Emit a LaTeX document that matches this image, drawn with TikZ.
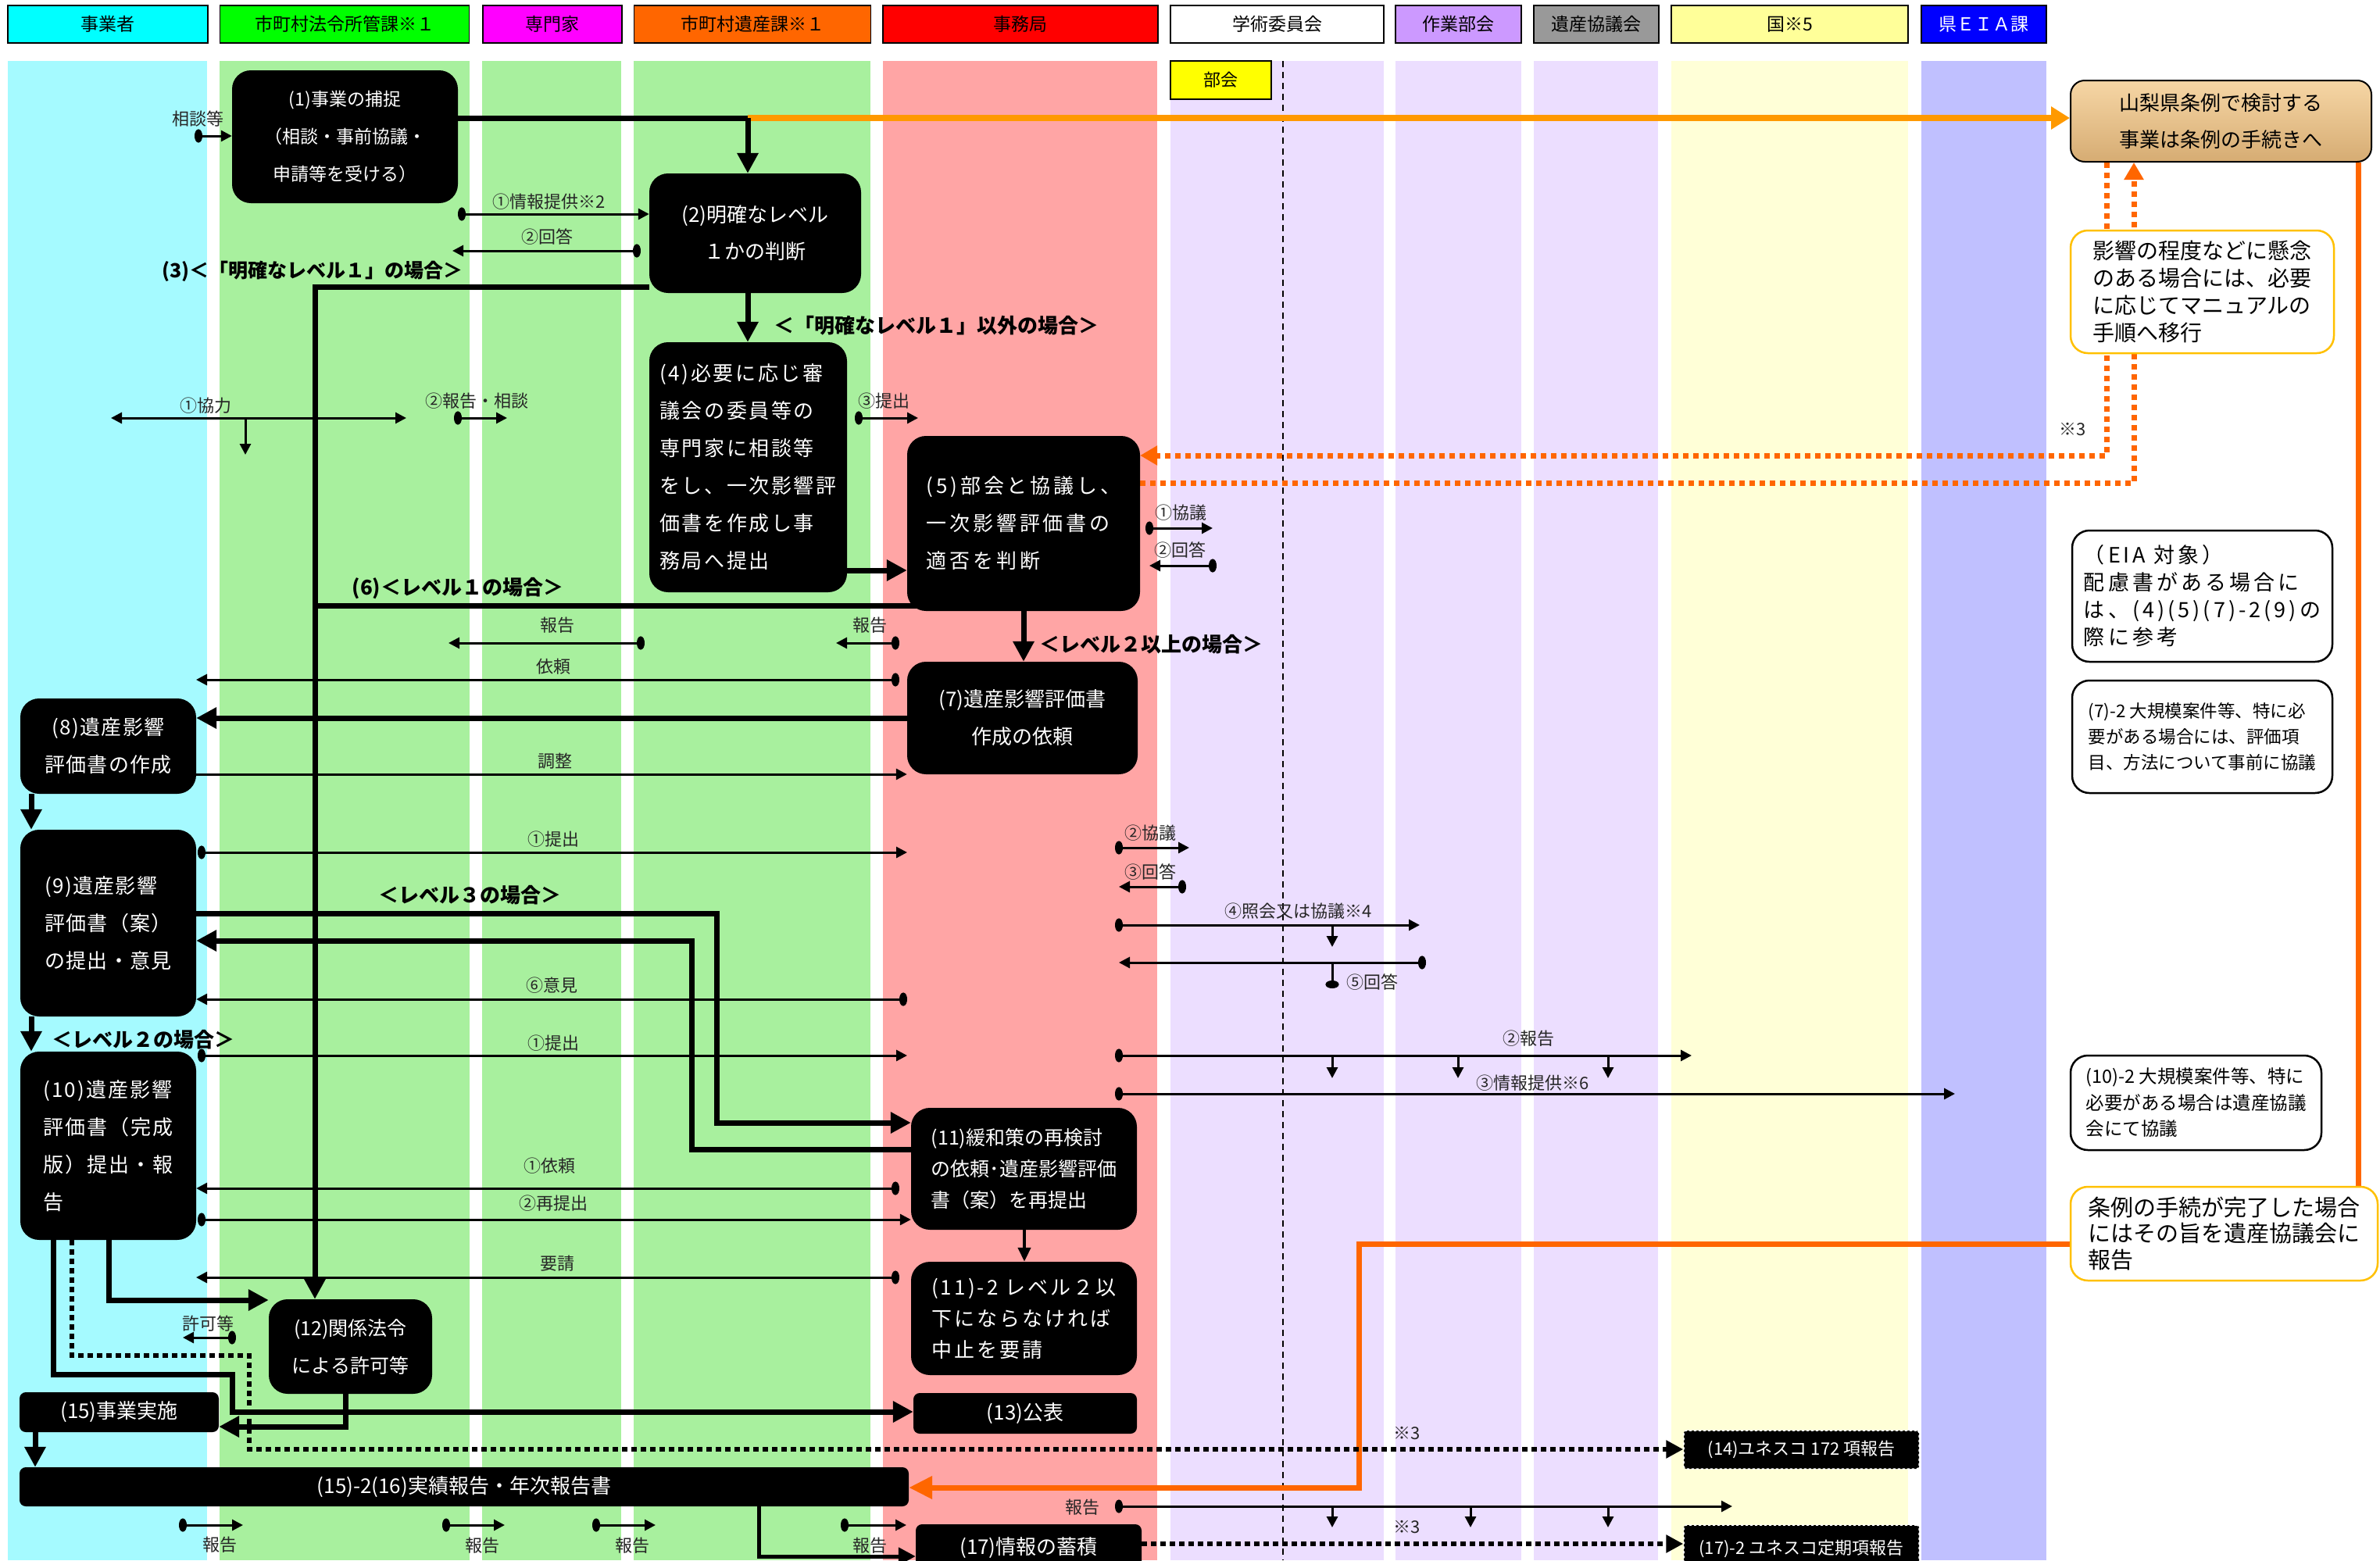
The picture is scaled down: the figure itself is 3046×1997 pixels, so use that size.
\documentclass[tikz,border=0pt]{standalone}
\usepackage{fontspec}
\setmainfont{Noto Sans CJK JP}
\usetikzlibrary{arrows.meta}
\pgfdeclarelayer{bg}
\pgfsetlayers{bg,main}
\definecolor{hcyan}{RGB}{0,255,255}
\definecolor{hgreen}{RGB}{0,255,0}
\definecolor{hmag}{RGB}{255,0,255}
\definecolor{horange}{RGB}{255,102,0}
\definecolor{hred}{RGB}{255,0,0}
\definecolor{hlav}{RGB}{204,153,255}
\definecolor{hgray}{RGB}{153,153,153}
\definecolor{hyel}{RGB}{255,255,153}
\definecolor{hblue}{RGB}{0,0,255}
\definecolor{lcyan}{RGB}{165,250,255}
\definecolor{lgreen}{RGB}{168,240,158}
\definecolor{lred}{RGB}{255,165,165}
\definecolor{llav}{RGB}{236,222,255}
\definecolor{lyel}{RGB}{255,255,215}
\definecolor{lblue}{RGB}{192,192,255}
\definecolor{orA}{RGB}{255,153,0}
\definecolor{orB}{RGB}{255,102,0}
\definecolor{gold}{RGB}{255,192,0}
\definecolor{tanT}{RGB}{246,214,165}
\definecolor{tanB}{RGB}{214,172,115}
\definecolor{bukai}{RGB}{255,255,0}
\newcommand\fs[2]{\fontsize{#1}{#2}\selectfont}
\newcommand\ls[1]{\addfontfeature{LetterSpace=#1}}
\tikzset{
 shdr/.style={draw=black, line width=1.5pt, minimum height=48pt, inner sep=0pt, font=\fs{23}{23}},
 sblk/.style={fill=black, text=white, rounded corners=24pt, inner sep=0pt},
 sblq/.style={fill=black, text=white, rounded corners=8pt, inner sep=0pt, font=\fs{26}{26}},
 stk/.style={line width=7pt},
 stka/.style={line width=7pt, -{Triangle[length=26pt,width=26pt]}},
 sdot/.style={line width=6pt, dash pattern=on 7pt off 5pt, -{Triangle[length=22pt,width=22pt]}},
 odot/.style={orB, line width=7pt, dash pattern=on 7pt off 6pt, -{Triangle[length=22pt,width=24pt]}},
 sta/.style={line width=3pt, {Circle[length=10pt,width=17pt]}-{Triangle[length=14pt,width=14pt]}},
 stb/.style={line width=3pt, -{Triangle[length=14pt,width=14pt]}},
 stc/.style={line width=3pt, {Triangle[length=14pt,width=14pt]}-{Triangle[length=14pt,width=14pt]}},
 std/.style={line width=3pt, {Circle[length=10pt,width=17pt]}-},
 slb/.style={inner sep=0pt, text=black!85, font=\fs{22}{22}},
 sbl/.style={inner sep=0pt, font=\bfseries\fs{26}{26}},
 snote/.style={draw=black, line width=2.5pt, fill=white, rounded corners=22pt, inner sep=0pt, align=left},
 snoteo/.style={draw=gold, line width=2.5pt, fill=white, rounded corners=22pt, inner sep=0pt, align=left},
}
\begin{document}
\begin{tikzpicture}[x=1pt,y=-1pt]
\useasboundingbox (0,0) rectangle (3046,1997);

% ---------- headers ----------
\node[shdr, fill=hcyan, minimum width=256pt] (h1) at (138,31) {事業者};
\node[shdr, fill=hgreen, minimum width=319pt] (h2) at (441,31) {市町村法令所管課※１};
\node[shdr, fill=hmag, minimum width=178pt] (h3) at (707,31) {専門家};
\node[shdr, fill=horange, minimum width=303pt] (h4) at (963,31) {市町村遺産課※１};
\node[shdr, fill=hred, minimum width=352pt] (h5) at (1306,31) {事務局};
\node[shdr, fill=white, minimum width=273pt] (h6) at (1634.5,31) {学術委員会};
\node[shdr, fill=hlav, minimum width=161pt] (h7) at (1866.5,31) {作業部会};
\node[shdr, fill=hgray, minimum width=160pt] (h8) at (2043,31) {遺産協議会};
\node[shdr, fill=hyel, minimum width=303pt] (h9) at (2290.5,31) {国※5};
\node[shdr, fill=hblue, text=white, minimum width=160pt] (h10) at (2539,31) {県ＥＩＡ課};
\node[shdr, fill=bukai, minimum width=129pt, minimum height=49pt, font=\fs{22}{22}] (bk) at (1562.5,102.5) {部会};

% ---------- black process nodes ----------
\node[sblk, minimum width=289pt, minimum height=170pt, align=center, font=\fs{23}{48}] (b1) at (441.5,175) {(1)事業の捕捉\\（相談・事前協議・\\申請等を受ける）};
\node[sblk, minimum width=271pt, minimum height=153pt, align=center, font=\fs{26}{47}] (b2) at (966.5,298.5) {(2)明確なレベル\\１かの判断};
\node[sblk, minimum width=253pt, minimum height=320pt, align=left, font=\fs{26}{48}\ls{10}] (b4) at (957.5,598) {(4)必要に応じ審\\議会の委員等の\\専門家に相談等\\をし、一次影響評\\価書を作成し事\\務局へ提出};
\node[sblk, minimum width=298pt, minimum height=224pt, align=left, font=\fs{26}{48}\ls{15}] (b5) at (1310,670) {(5)部会と協議し、\\一次影響評価書の\\適否を判断};
\node[sblk, minimum width=295pt, minimum height=144pt, align=center, font=\fs{26}{48}] (b7) at (1308.5,919) {(7)遺産影響評価書\\作成の依頼};
\node[sblk, minimum width=225pt, minimum height=122pt, align=center, font=\fs{26}{48}\ls{5}] (b8) at (138.5,955) {(8)遺産影響\\評価書の作成};
\node[sblk, minimum width=225pt, minimum height=239pt, align=left, font=\fs{26}{48}\ls{5}] (b9) at (138.5,1181.5) {(9)遺産影響\\評価書（案）\\の提出・意見};
\node[sblk, minimum width=225pt, minimum height=241pt, align=left, font=\fs{26}{48}\ls{8}] (b10) at (138.5,1466.5) {(10)遺産影響\\評価書（完成\\版）提出・報\\告};
\node[sblk, minimum width=289pt, minimum height=156pt, align=left, font=\fs{25}{40}] (b11) at (1310.5,1496) {(11)緩和策の再検討\\の依頼･遺産影響評価\\書（案）を再提出};
\node[sblk, minimum width=289pt, minimum height=145pt, align=left, font=\fs{26}{40}\ls{12}] (b112) at (1310.5,1687.5) {(11)-2 レベル２以\\下にならなければ\\中止を要請};
\node[sblk, minimum width=209pt, minimum height=121pt, align=center, font=\fs{25}{48}] (b12) at (448.5,1723.5) {(12)関係法令\\による許可等};
\node[sblq, minimum width=286pt, minimum height=52pt] (b13) at (1312,1809) {(13)公表};
\node[sblq, minimum width=255pt, minimum height=51pt] (b15) at (152.5,1807.5) {(15)事業実施};
\node[sblq, minimum width=1138pt, minimum height=50pt] (b152) at (594,1903) {(15)-2(16)実績報告・年次報告書};
\node[sblq, minimum width=289pt, minimum height=60pt] (b17) at (1316.5,1981) {(17)情報の蓄積};
\node[sblq, rounded corners=3pt, minimum width=301pt, minimum height=49pt, font=\fs{22}{22}, draw=white, line width=1.5pt, dash pattern=on 3pt off 3pt] (b14) at (2305.5,1855.5) {(14)ユネスコ 172 項報告};
\node[sblq, rounded corners=3pt, minimum width=301pt, minimum height=60pt, font=\fs{22}{22}, draw=white, line width=1.5pt, dash pattern=on 3pt off 3pt] (b172) at (2305.5,1982) {(17)-2 ユネスコ定期項報告};

% ---------- right side notes ----------
\node[draw=black, line width=2pt, rounded corners=18pt, top color=tanT, bottom color=tanB, minimum width=385pt, minimum height=104pt, inner sep=0pt, align=center, font=\fs{26}{47}] (jA) at (2842.5,155) {山梨県条例で検討する\\事業は条例の手続きへ};
\node[snoteo, minimum width=337pt, minimum height=157pt, font=\fs{28}{35}] (jC) at (2818.5,373.5) {影響の程度などに懸念\\のある場合には、必要\\に応じてマニュアルの\\手順へ移行};
\node[snote, minimum width=333pt, minimum height=168pt, font=\fs{27}{35}\ls{15}] (jD) at (2818.5,763) {（EIA 対象）\\配慮書がある場合に\\は、(4)(5)(7)-2(9)の\\際に参考};
\node[snote, minimum width=333pt, minimum height=144pt, font=\fs{22.5}{33}] (jE) at (2818.5,943) {(7)-2 大規模案件等、特に必\\要がある場合には、評価項\\目、方法について事前に協議};
\node[snote, minimum width=321pt, minimum height=121pt, font=\fs{23.5}{33.5}] (jF) at (2810.5,1411.5) {(10)-2 大規模案件等、特に\\必要がある場合は遺産協議\\会にて協議};
\node[snoteo, minimum width=393pt, minimum height=120pt, font=\fs{29}{33.5}] (jB) at (2846.5,1579) {条例の手続が完了した場合\\にはその旨を遺産協議会に\\報告};

% ---------- labels ----------
\node[slb] (l1) at (253,152) {相談等};
\node[slb] (l2) at (703,258) {①情報提供※2};
\node[slb] (l3) at (700,303) {②回答};
\node[slb] (l4) at (263,519) {①協力};
\node[slb] (l5) at (610,513) {②報告・相談};
\node[slb] (l6) at (1131,513) {③提出};
\node[slb] (l7) at (1511,656) {①協議};
\node[slb] (l8) at (1510,704) {②回答};
\node[slb] (l9) at (713,800) {報告};
\node[slb] (l10) at (1113,800) {報告};
\node[slb] (l11) at (708,853) {依頼};
\node[slb] (l12) at (710,974) {調整};
\node[slb] (l13) at (708,1074) {①提出};
\node[slb] (l14) at (1472,1066) {②協議};
\node[slb] (l15) at (1472,1116) {③回答};
\node[slb] (l16) at (1662,1166) {④照会又は協議※4};
\node[slb] (l17) at (1756,1257) {⑤回答};
\node[slb] (l18) at (706,1261) {⑥意見};
\node[slb] (l19) at (708,1335) {①提出};
\node[slb] (l20) at (1956,1329) {②報告};
\node[slb] (l21) at (1962,1386) {③情報提供※6};
\node[slb] (l22) at (703,1492) {①依頼};
\node[slb] (l23) at (708,1540) {②再提出};
\node[slb] (l24) at (713,1617) {要請};
\node[slb] (l25) at (266,1694) {許可等};
\node[slb] (l26) at (281,1977) {報告};
\node[slb] (l27) at (617,1978) {報告};
\node[slb] (l28) at (809,1978) {報告};
\node[slb] (l29) at (1113,1978) {報告};
\node[slb] (l30) at (1385,1929) {報告};
\node[slb] (l31) at (2653,549) {※3};
\node[slb] (l32) at (1801,1834) {※3};
\node[slb] (l33) at (1801,1954) {※3};

\node[sbl, font=\bfseries\fs{25}{25}] (k1) at (400,347) {(3)＜「明確なレベル１」の場合＞};
\node[sbl, anchor=west] (k2) at (990,417) {＜「明確なレベル１」以外の場合＞};
\node[sbl] (k3) at (586,753) {(6)＜レベル１の場合＞};
\node[sbl, anchor=west] (k4) at (1330,825) {＜レベル２以上の場合＞};
\node[sbl] (k5) at (601,1146) {＜レベル３の場合＞};
\node[sbl] (k6) at (183,1331) {＜レベル２の場合＞};

% ---------- background layer: lanes and connectors ----------
\begin{pgfonlayer}{bg}
\fill[white] (0,0) rectangle (3046,1997);
\fill[lcyan] (10,78) rectangle (265,1997);
\fill[lgreen] (281,78) rectangle (601,1997);
\fill[lgreen] (617,78) rectangle (795,1997);
\fill[lgreen] (811,78) rectangle (1114,1997);
\fill[lred] (1130,78) rectangle (1481,1997);
\fill[llav] (1498,78) rectangle (1771,1997);
\fill[llav] (1786,78) rectangle (1947,1997);
\fill[llav] (1963,78) rectangle (2122,1997);
\fill[lyel] (2139,78) rectangle (2442,1997);
\fill[lblue] (2459,78) rectangle (2619,1997);
\draw[line width=2pt, dash pattern=on 8pt off 6pt] (1642,78) -- (1642,1997);

% orange connectors
\coordinate (j1) at (957,151);
\draw[orA, line width=8pt, -{Triangle[length=24pt,width=28pt]}] (j1) -- (jA.west |- j1);
\draw[odot] (2696,0 |- jA.south) -- (2696,583) -- (b5.east |- 0,583);
\draw[odot] (b5.east |- 0,618) -- (2731,618) -- (2731,0 |- jA.south);
\draw[orB, line width=7pt] (3018,0 |- jA.south) -- (3018,0 |- jB.north);
\draw[orB, line width=7pt, -{Triangle[length=30pt,width=28pt]}] (jB.west |- 0,1592) -- (1739,1592) -- (1739,1904) -- (b152.east |- 0,1904);

% thick black connectors
\draw[stk] (b1.east |- j1) -- (j1);
\draw[stka] (j1) -- (j1 |- b2.north);
\draw[stka] (957,0 |- b2.south) -- (957,0 |- b4.north);
\draw[stka] (b2.west |- 0,367) -- (403,367) -- (403,0 |- b12.north);
\draw[stka] (b4.east |- 0,730) -- (b5.west |- 0,730);
\draw[stk] (1180,775) -- (403,775);
\draw[stka] (b5.south) -- (b5.south |- b7.north);
\draw[stka] (b7.west |- 0,919) -- (b8.east |- 0,919);
\draw[stka] (40,0 |- b8.south) -- (40,0 |- b9.north);
\draw[stka] (b9.east |- 0,1169) -- (917,1169) -- (917,1437) -- (b11.west |- 0,1437);
\draw[stka] (b11.west |- 0,1471) -- (885,1471) -- (885,1204) -- (b9.east |- 0,1204);
\draw[stka] (40,0 |- b9.south) -- (40,0 |- b10.north);
\draw[line width=4pt, -{Triangle[length=18pt,width=16pt]}] (1311,0 |- b11.south) -- (1311,0 |- b112.north);
\draw[stka] (139,0 |- b10.south) -- (139,1664) -- (b12.west |- 0,1664);
\draw[stka] (68,0 |- b10.south) -- (68,1759) -- (297,1759) -- (297,1807) -- (b13.west |- 0,1807);
\draw[sdot] (92,0 |- b10.south) -- (92,1735) -- (319,1735) -- (319,1855) -- (b14.west |- 0,1855);
\draw[stka] (442,0 |- b12.south) -- (442,1826) -- (b15.east |- 0,1826);
\draw[stka] (45,0 |- b15.south) -- (45,0 |- b152.north);
\draw[line width=5pt, -{Triangle[length=22pt,width=22pt]}] (971,0 |- b152.south) -- (971,1992) -- (b17.west |- 0,1992);
\draw[sdot] (b17.east |- 0,1976) -- (b172.west |- 0,1976);

% thin connectors
\draw[sta] (249,174) coordinate (c1) -- (b1.west |- c1);
\draw[sta] (586,274) coordinate (c2) -- (b2.west |- c2);
\draw[sta] (820,321) coordinate (c3a) -- (579,321) coordinate (c3b);
\draw[stc] (142,535) coordinate (c4a) -- (520,535) coordinate (c4b);
\draw[stb] (314,535) coordinate (c4c) -- (314,582) coordinate (c4d);
\draw[sta] (581,535) coordinate (c5a) -- (649,535) coordinate (c5b);
\draw[sta] (1094,535) coordinate (c6a) -- (1175,535) coordinate (c6b);
\draw[sta] (1466,676) coordinate (c7a) -- (1552,676) coordinate (c7b);
\draw[sta] (1557,724) coordinate (c8a) -- (1471,724) coordinate (c8b);
\draw[sta] (825,823) coordinate (c9a) -- (574,823) coordinate (c9b);
\draw[sta] (1151,823) coordinate (c10a) -- (1070,823) coordinate (c10b);
\draw[sta] (1151,870) coordinate (c11a) -- (251,870) coordinate (c11b);
\draw[stb] (b8.east |- 0,991) -- (b7.west |- 0,991);
\draw[sta] (253,1091) coordinate (c13a) -- (1161,1091) coordinate (c13b);
\draw[sta] (1427,1085) coordinate (c14a) -- (1522,1085) coordinate (c14b);
\draw[sta] (1518,1135) coordinate (c15a) -- (1432,1135) coordinate (c15b);
\draw[sta] (1427,1184) coordinate (c16a) -- (1817,1184) coordinate (c16b);
\draw[stb] (1705,1184) coordinate (c16c) -- (1705,1212) coordinate (c16d);
\draw[sta] (1825,1232) coordinate (c17a) -- (1432,1232) coordinate (c17b);
\draw[std] (1705,1265) coordinate (c17c) -- (1705,1232) coordinate (c17d);
\draw[sta] (1161,1279) coordinate (c18a) -- (b9.east |- c18a);
\draw[sta] (253,1351) coordinate (c19a) -- (1161,1351) coordinate (c19b);
\draw[sta] (1427,1351) coordinate (c20a) -- (2165,1351) coordinate (c20b);
\draw[stb] (1705,1351) coordinate (c20c) -- (1705,1380) coordinate (c20d);
\draw[stb] (1866,1351) coordinate (c20e) -- (1866,1380) coordinate (c20f);
\draw[stb] (2058,1351) coordinate (c20g) -- (2058,1380) coordinate (c20h);
\draw[sta] (1427,1400) coordinate (c21a) -- (2502,1400) coordinate (c21b);
\draw[sta] (1151,1521) coordinate (c22a) -- (b10.east |- c22a);
\draw[sta] (253,1561) coordinate (c23a) -- (b11.west |- c23a);
\draw[sta] (1151,1635) coordinate (c24a) -- (251,1635) coordinate (c24b);
\draw[sta] (302,1712) coordinate (c25a) -- (234,1712) coordinate (c25b);
\draw[sta] (229,1952) coordinate (c26a) -- (311,1952) coordinate (c26b);
\draw[sta] (566,1952) coordinate (c27a) -- (646,1952) coordinate (c27b);
\draw[sta] (758,1952) coordinate (c28a) -- (839,1952) coordinate (c28b);
\draw[sta] (1076,1952) coordinate (c29a) -- (1160,1952) coordinate (c29b);
\draw[sta] (1427,1928) coordinate (c30a) -- (2217,1928) coordinate (c30b);
\draw[stb] (1705,1928) coordinate (c30c) -- (1705,1955) coordinate (c30d);
\draw[stb] (1882,1928) coordinate (c30e) -- (1882,1955) coordinate (c30f);
\draw[stb] (2058,1928) coordinate (c30g) -- (2058,1955) coordinate (c30h);
\end{pgfonlayer}
\end{tikzpicture}
\end{document}
